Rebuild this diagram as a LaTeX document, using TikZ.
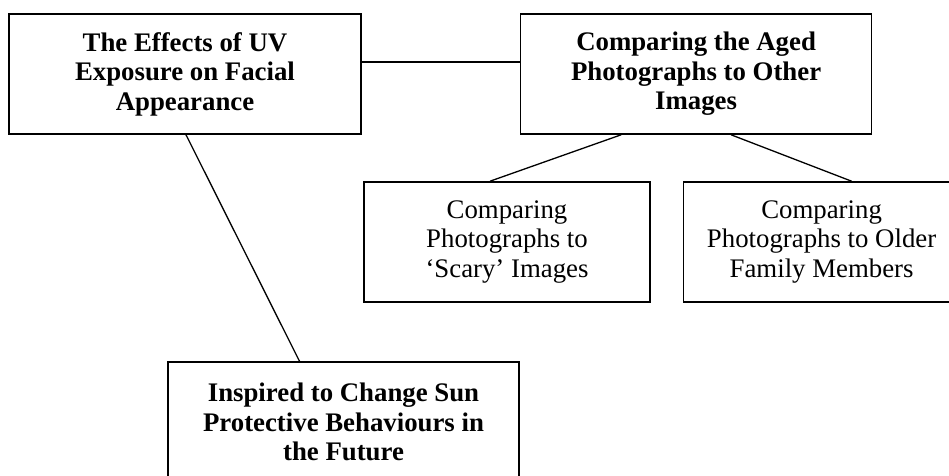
\documentclass[tikz,border=0pt]{standalone}
\usepackage{fontspec}
\setmainfont{Liberation Serif}
\usetikzlibrary{positioning}

\begin{document}
\begin{tikzpicture}[x=1pt, y=1pt,
  box/.style = {draw, line width=1.6pt, minimum height=120pt, inner sep=0pt, align=center, font=\fontsize{26.8}{29.5}\selectfont},
  boldbox/.style = {box, font=\fontsize{26.8}{29.5}\selectfont\bfseries},
  link/.style = {line width=1.3pt}]

\useasboundingbox (0,0) rectangle (949,-475);
\clip (0,0) rectangle (949,-475);

%--- Nodes ---
% effects
\node[boldbox, minimum width=352pt] (effects) at (185,-74) {The Effects of UV\\Exposure on Facial\\Appearance};

% aged
\node[boldbox, minimum width=351pt, right=158pt of effects] (aged) {Comparing the Aged\\Photographs to Other\\Images};

% scary
\node[box, minimum width=286pt] (scary) at (507,-242) {Comparing\\Photographs to\\`Scary' Images};

% family
\node[box, minimum width=276pt, right=32pt of scary] (family) {Comparing\\Photographs to Older\\Family Members};

% future
\node[boldbox, minimum width=351pt] (future) at (343.5,-422) {Inspired to Change Sun\\Protective Behaviours in\\the Future};

%--- effects -- aged ---
\draw[link] ([yshift=12pt]effects.east) -- ([yshift=12pt]aged.west);

%--- effects -- future ---
\draw[link] ([xshift=1pt]effects.south) -- ([xshift=-44pt]future.north);

%--- aged -- scary, aged -- family ---
\draw[link] ([xshift=-75pt]aged.south) -- ([xshift=-17pt]scary.north);
\draw[link] ([xshift=35pt]aged.south) -- ([xshift=30pt]family.north);

\end{tikzpicture}
\end{document}
